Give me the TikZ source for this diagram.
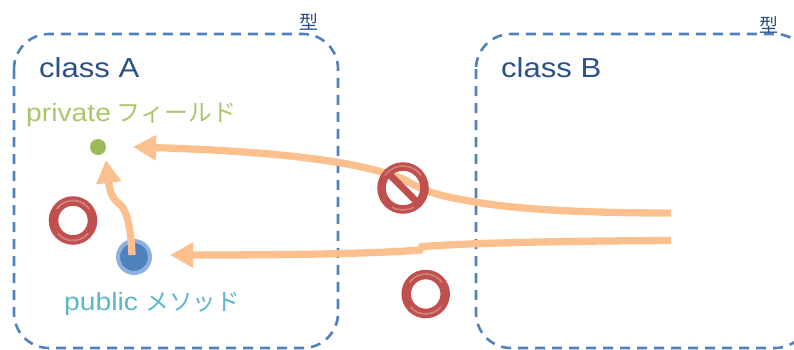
\documentclass[tikz,border=0pt]{standalone}
\usepackage{fontspec}
\setmainfont{Liberation Sans}
\newfontfamily\lat[FakeStretch=1.13]{Liberation Sans}
\newfontfamily\jpn{Noto Sans CJK JP}
\usetikzlibrary{arrows.meta}
\definecolor{boxblue}{HTML}{4F81BD}
\definecolor{navy}{HTML}{2A5187}
\definecolor{leaf}{HTML}{A9C66C}
\definecolor{dot}{HTML}{9BBB59}
\definecolor{teal}{HTML}{5BB5CD}
\definecolor{peach}{HTML}{FBC08E}
\definecolor{bad}{HTML}{C0504D}
\definecolor{badlight}{HTML}{D27F7D}
\definecolor{halo}{HTML}{8FB0E0}
\tikzset{
  classbox/.style={draw=boxblue,line width=2.6pt,dash pattern=on 10pt off 7pt,rounded corners=35pt},
  typelabel/.style={font=\jpn\fontsize{19}{19}\selectfont,text=navy,inner sep=0pt},
  classlabel/.style={font=\lat\fontsize{27.5}{27.5}\selectfont,text=navy,inner sep=0pt,anchor=base west},
  memberlabel/.style={font=\lat\fontsize{25}{25}\selectfont,inner sep=0pt,anchor=base west},
  flow/.style={draw=peach,line width=7.3pt,-{Triangle[length=23pt,width=24pt,fill=peach]}},
  ringmark/.style={circle,draw=bad,line width=9.5pt,minimum size=39pt,inner sep=0pt,fill=none},
}
\begin{document}
\begin{tikzpicture}[x=1pt,y=-1pt]
\useasboundingbox (0,0) rectangle (794,349);
\clip (0,0) rectangle (794,349);
% class boxes
\draw[classbox] (14,34) rectangle (338,348);
\draw[classbox] (476,34) rectangle (810,348);
% labels
\node[typelabel] (typeA) at (308.5,22) {型};
\node[typelabel] (typeB) at (769,25) {型};
\node[classlabel] (classA) at (39,77) {class A};
\node[classlabel] (classB) at (501,77) {class B};
\node[memberlabel,text=leaf] (priv) at (26,121) {private\hspace{-2pt} {\jpn\fontsize{24}{24}\selectfont フィールド}};
\node[memberlabel,text=teal] (pub) at (64,310) {public {\jpn\fontsize{23.5}{23.5}\selectfont メソッド}};
% members
\node[circle,fill=dot,minimum size=16pt,inner sep=0pt] (field) at (98,147) {};
\node[circle,fill=boxblue,draw=halo,line width=4pt,minimum size=32pt,inner sep=0pt] (method) at (134,257) {};
\coordinate (srcB1) at (671,213);
\coordinate (srcB2) at (671,240.5);
\coordinate (tipF) at (133,147);
\coordinate (tipM) at (170,255);
\coordinate (tipU) at (106,160);
% arrows
\draw[flow] (srcB1) .. controls (560,213) and (500,207) .. (470,201)
  .. controls (440,196) and (425,192) .. (405,180)
  .. controls (370,165) and (300,152) .. (tipF);
\draw[flow] (srcB2) .. controls (560,241) and (470,243) .. (422,246.5)
  -- (420,250) .. controls (370,254) and (280,255) .. (tipM);
\draw[flow] (132,255) .. controls (131,232) and (128,208) .. (117,202)
  .. controls (110,196) and (109,185) .. (tipU);
% verdict marks
\node[ringmark] (ok1) at (73,220.5) {};
\node[ringmark] (ok2) at (425.7,294) {};
\foreach \c in {ok1,ok2}{
  \draw[badlight,line width=1.8pt] ([shift={(215:20)}]\c.center) arc[start angle=215,end angle=325,radius=20];
  \draw[badlight,line width=1.8pt] ([shift={(40:20)}]\c.center) arc[start angle=40,end angle=140,radius=20];
}
\node[circle,draw=bad,line width=8.5pt,minimum size=43pt,inner sep=0pt] (no) at (403,188) {};
\draw[bad,line width=7pt] (no.center) ++(-15,-15) -- ++(30,30);
\draw[badlight,line width=1.6pt] ([shift={(215:22)}]no.center) arc[start angle=215,end angle=325,radius=22];
\draw[badlight,line width=1.6pt] ([shift={(60:22)}]no.center) arc[start angle=60,end angle=120,radius=22];
\end{tikzpicture}
\end{document}
